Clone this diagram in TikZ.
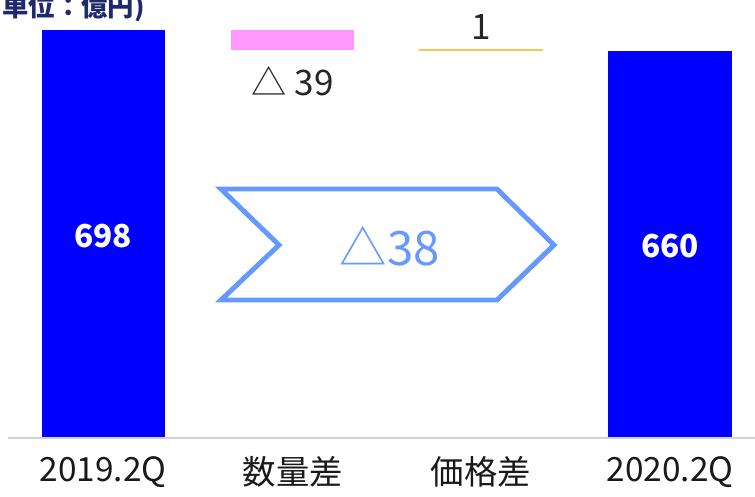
\documentclass[tikz,border=0pt]{standalone}
\usepackage{fontspec}
\setmainfont{Noto Sans CJK JP}
\definecolor{BarSurface}{HTML}{0000FF}
\definecolor{VolumeSurface}{HTML}{FF99FF}
\definecolor{PriceLine}{HTML}{F5C84C}
\definecolor{ChevronLine}{HTML}{6699FF}
\definecolor{UnitText}{HTML}{1F2A6B}
\colorlet{AxisLine}{black!18}

\begin{document}
\begin{tikzpicture}[x=0.02cm, y=-0.02cm,
    value/.style={text=white, font=\fontsize{18}{18}\selectfont\bfseries},
    delta/.style={text=black!85, font=\fontsize{20}{20}\selectfont},
    category/.style={text=black!90, font=\fontsize{19}{19}\selectfont}]

\useasboundingbox (0,0) rectangle (755,497);

\node [anchor=east, text=UnitText, font=\fontsize{15}{15}\selectfont\bfseries]
      (unit) at (151,8) {(単位：億円)};

% bars
\coordinate (A) at (42,30);
\coordinate (D) at (608,51);
\fill [BarSurface] (A) rectangle (165,437);
\fill [BarSurface] (D) rectangle (732,437);
\node [value] (v2019) at (103,236) {698};
\node [value] (v2020) at (670,246) {660};

% differences
\fill [VolumeSurface] (231,30) rectangle (354,50);
\node [delta] (dvolume) at (293,81) {△ 39};
\coordinate (P) at (419,50);
\draw [PriceLine, line width=1.2pt] (P) -- ++(124,0);
\node [delta] (dprice) at (481,27) {1};

% axis
\draw [AxisLine, line width=1pt] (8,438) -- (755,438);

% chevron
\draw [ChevronLine, line width=2.8pt, miter limit=20]
      (221,189) -- (497,189) -- (554,245) -- (497,300)
      -- (221,300) -- (279,245) -- cycle;
\node [text=ChevronLine, font=\fontsize{27}{27}\selectfont] (total) at (390,246) {△38};

% categories
\node [category] (c2019) at (103,472) {2019.2Q};
\node [category] (cvolume) at (293,472) {数量差};
\node [category] (cprice) at (481,472) {価格差};
\node [category] (c2020) at (670,472) {2020.2Q};

\end{tikzpicture}
\end{document}
